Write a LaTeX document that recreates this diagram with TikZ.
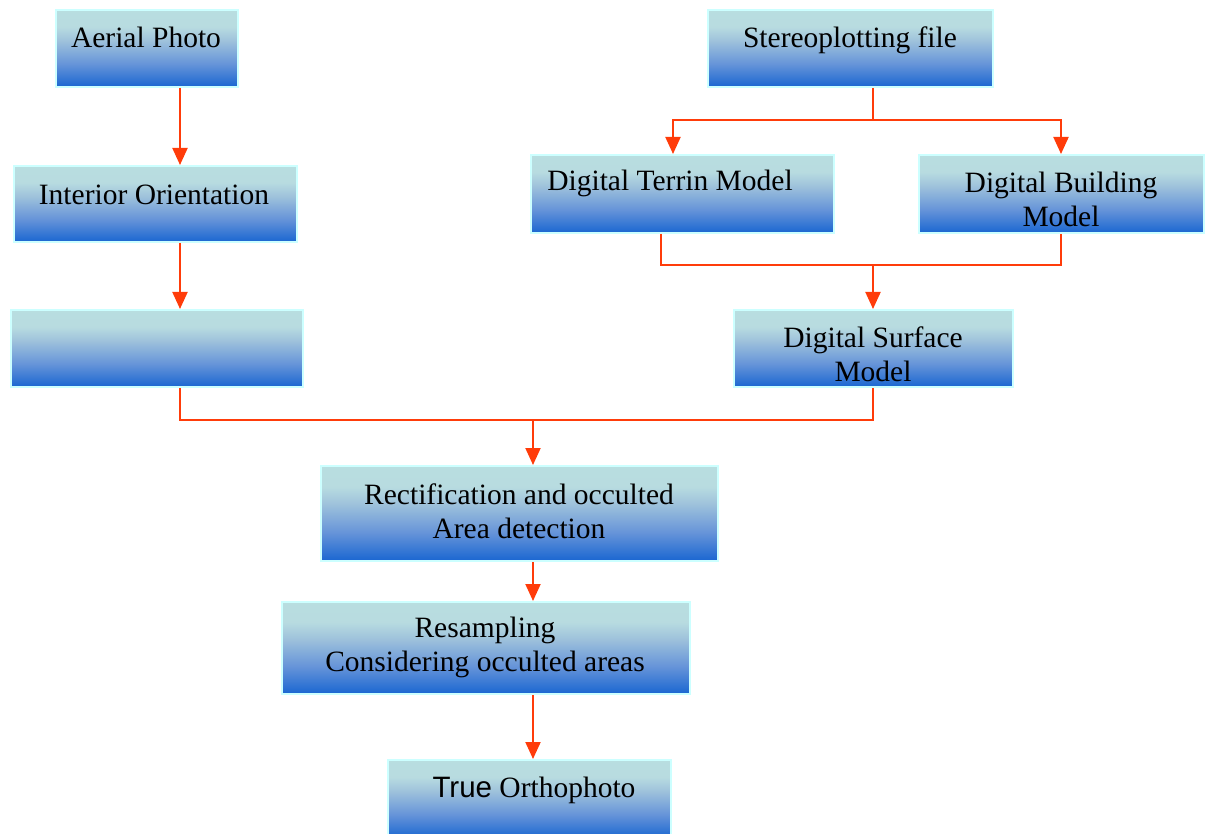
\documentclass[tikz,border=0pt]{standalone}
\usepackage{fontspec}
\setmainfont{Liberation Serif}
\newfontfamily\sansf{Liberation Sans}
\usetikzlibrary{arrows.meta}
\definecolor{linkred}{RGB}{255,60,10}
\definecolor{boxedge}{RGB}{204,255,255}
\pgfdeclareverticalshading{boxshade}{100bp}{rgb(0bp)=(0.10,0.40,0.82); rgb(25bp)=(0.10,0.40,0.82); rgb(40bp)=(0.40,0.58,0.85); rgb(55bp)=(0.62,0.76,0.86); rgb(64bp)=(0.72,0.86,0.88); rgb(75bp)=(0.72,0.87,0.88); rgb(100bp)=(0.72,0.87,0.88)}
\tikzset{
  box/.style={draw=boxedge, line width=2pt, shading=boxshade, inner sep=0pt, anchor=north west},
  lbl/.style={font=\fontsize{29.5}{34}\selectfont, align=center, inner sep=0pt},
  link/.style={draw=linkred, line width=2pt},
  arr/.style={-{Triangle[width=15pt,length=17pt]}}
}
\begin{document}
\begin{tikzpicture}[x=1pt,y=-1pt]
\useasboundingbox (0,0) rectangle (1207,834);
% column coordinates
\coordinate (colA) at (180,0);
\coordinate (colM) at (533,0);
\coordinate (colS) at (873,0);
\coordinate (colT) at (673,0);
\coordinate (colTb) at (661,0);
\coordinate (colB) at (1061,0);
% boxes
\node[box, minimum width=182, minimum height=77] (aerial) at (55,9) {};
\node[box, minimum width=285, minimum height=77] (stereo) at (707,9) {};
\node[box, minimum width=283, minimum height=76] (interior) at (13,165) {};
\node[box, minimum width=303, minimum height=78] (dtm) at (530,154) {};
\node[box, minimum width=285, minimum height=78] (dbm) at (918,154) {};
\node[box, minimum width=292, minimum height=77] (empty) at (10,309) {};
\node[box, minimum width=279, minimum height=77] (dsm) at (733,309) {};
\node[box, minimum width=397, minimum height=95] (rect) at (320,465) {};
\node[box, minimum width=408, minimum height=92] (resamp) at (281,601) {};
\node[box, minimum width=283, minimum height=78] (true) at (387,759) {};
% labels
\node[lbl] (aerialT) at (146,37) {Aerial Photo};
\node[lbl] (stereoT) at (850,40) {Stereoplotting file};
\node[lbl] (interiorT) at (154,195) {Interior Orientation};
\node[lbl] (dtmT) at (670,183) {Digital Terrin Model};
\node[lbl] (dbmT) at (1061,199) {Digital Building\\Model};
\node[lbl] (dsmT) at (873,354) {Digital Surface\\Model};
\node[lbl] (rectT) at (519,511) {Rectification and occulted\\Area detection};
\node[lbl] (resampT) at (485,647) {Resampling\\Considering occulted areas};
\node[lbl] (trueT) at (534,790) {{\sansf True} Orthophoto};
% connectors
\draw[link,arr] (aerial.south -| colA) -- (interior.north -| colA);
\draw[link,arr] (interior.south -| colA) -- (empty.north -| colA);
\coordinate (j1) at (873,120);
\draw[link] (stereo.south -| colS) -- (j1);
\draw[link,arr] (j1) -| (dtm.north -| colT);
\draw[link,arr] (j1) -| (dbm.north -| colB);
\coordinate (j2) at (873,265);
\draw[link] (dtm.south -| colTb) |- (j2) -| (dbm.south -| colB);
\draw[link,arr] (j2) -- (dsm.north -| colS);
\coordinate (j3) at (533,420);
\draw[link] (empty.south -| colA) |- (j3) -| (dsm.south -| colS);
\draw[link,arr] (j3) -- (rect.north -| colM);
\draw[link,arr] (rect.south -| colM) -- (resamp.north -| colM);
\draw[link,arr] (resamp.south -| colM) -- (true.north -| colM);
\end{tikzpicture}
\end{document}
